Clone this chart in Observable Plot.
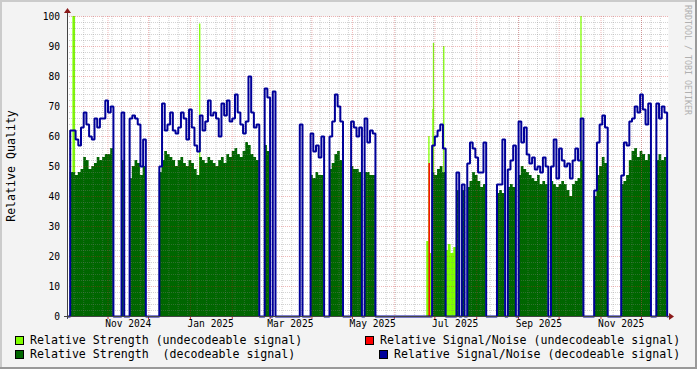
<!DOCTYPE html>
<html><head><meta charset="utf-8">
<script src="https://cdn.jsdelivr.net/npm/d3@7"></script>
<script src="https://cdn.jsdelivr.net/npm/@observablehq/plot@0.6"></script>
<style>
html,body{margin:0;padding:0;background:#f3f3f3;}
#wrap{position:relative;width:697px;height:369px;background:#f3f3f3;font-family:"DejaVu Sans Mono",monospace;overflow:hidden;}
#chart{position:absolute;left:0;top:0;}
.b{position:absolute;}
.sq{position:absolute;width:7px;height:7px;border:1px solid #000;}
.lt{position:absolute;font-size:11.6px;line-height:11.6px;white-space:pre;color:#000;}
</style></head>
<body><div id="wrap">
<div class="b" style="left:0;top:0;width:697px;height:2px;background:#cbcbcb"></div>
<div class="b" style="left:0;top:0;width:2px;height:369px;background:#cbcbcb"></div>
<div class="b" style="right:0;top:0;width:2px;height:369px;background:#999"></div>
<div class="b" style="left:0;bottom:0;width:697px;height:2px;background:#999"></div>
<div id="chart"></div>
<div id="legend"></div>
</div>
<script>
// ---------- data ----------
const DAY = 86400000;
const startTime = Date.UTC(2024, 9, 2);   // left edge of the time axis
const endTime = Date.UTC(2025, 11, 21);   // right edge of the time axis
const binDays = 2;                         // one value per two days

// Relative Strength (decodeable signal), one value per bin
const strength = [
  0,
  48,48,47,48,49,53,52,49,50,51,53,52,53,54,54,56,
  0,0,0, 52, 0,0,
  46,50,52,51,47,50,
  0,0,0,0,0,
  48,52,55,54,53,52,50,52,53,51, 50,52,51,49,47,53,52,51,53,52,
  51,50,52,53,51,54,53,55,56,54, 53,55,58,57,54,53,52,
  0,0, 57,55,
  0,0,0,0,0,0,0,0,0,0,0,0,0,0,0,
  47,46,48,47,47, 0,0,
  49,51,54,55,52, 0,0,0,
  50,49,49,48,0,48,48,47,47,
  0,0,0,0,0,0,0,0,0,0,0,0,0,0,0,0,0,0,0,0,0,
  48,47,49,50,48, 0,0,0,0,
  42,0,42,0,43,45,48,47,45,43,44, 0,0,0,0,
  41,42,41,0,43,44,43, 0,
  47,50,49,48,47,46,45,47,44,45,44, 0,
  45,44,43,44,45,44,42,40,44,45,46,52, 0,0,0,0,
  40,47,50,53,51, 0,0,0,0,0,
  44,45,47,52,55,56,53,55,54,52,54, 0,0,
  52,54,52,53, 0
];
// Relative Signal/Noise (decodeable signal), one value per bin
const snr = [
  0,
  62,62,59,57,63,68,64,60,59,66,63,66,66,72,68,70,
  0,0,0, 68, 0,0,
  66,67,66,64,50,59,
  0,0,0,0,0,
  50,71,62,64,68,62,61,63,68,66, 59,69,63,57,55,67,62,65,72,67,
  68,66,60,71,67,72,65,66,74,68, 64,61,65,80,68,63,64,
  0,0, 76,73,
  0,75,0,0,0,0,0,0,0,0,0,64,0,0,0,
  61,55,57,53,60, 0,0,
  60,65,74,70,65, 0,0,0,
  65,63,60,63,0,66,58,62,61,
  0,0,0,0,0,0,0,0,0,0,0,0,0,0,0,0,0,0,0,0,0,
  57,60,62,64,56, 0,0,0,0,
  48,0,44,0,51,58,56,53,48,48,58, 0,0,0,0,
  44,44,59,0,49,52,57, 0,
  65,58,63,54,51,53,49,50,48,53,50, 0,
  50,59,46,56,52,50,51,46,52,56,52,66, 0,0,0,0,
  42,58,64,67,63, 0,0,0,0,0,
  47,58,57,65,66,70,68,74,69,64,71, 0,0,
  71,66,70,68, 0
];
// Relative Strength (undecodeable signal): wider blocks (bin index, value)
const undecBins = [2, 133, 134, 140, 141, 142, 143];
const undecValues = [100, 25, 21, 22, 24, 21, 23];
// Relative Strength (undecodeable signal): thin spikes (days after start, value)
const spikeDays = [97.9, 267.6, 270.6, 271.0, 278.6, 380.2];
const spikeValues = [97.5, 60, 69, 91, 90, 100];
// Relative Signal/Noise (undecodeable signal)
const redDays = [267.8];
const redValues = [51];

const yTicks = [0, 10, 20, 30, 40, 50, 60, 70, 80, 90, 100];
const xLabelDates = ["2024-11-16", "2025-01-16", "2025-03-16", "2025-05-16", "2025-07-16", "2025-09-16", "2025-11-16"];

const legendItems = [
  {label: "Relative Strength (undecodeable signal)", color: "#80ff00"},
  {label: "Relative Signal/Noise (undecodeable signal)", color: "#ff0000"},
  {label: "Relative Strength  (decodeable signal)", color: "#006600"},
  {label: "Relative Signal/Noise (decodeable signal)", color: "#000099"}
];

// ---------- build tables ----------
const toDate = d => new Date(startTime + d * DAY);
const bins = strength.map((s, k) => ({t: toDate(k * binDays), s, n: snr[k], u: 0}));
undecBins.forEach((k, i) => bins[k].u = undecValues[i]);
bins.push({t: new Date(endTime), s: 0, n: 0, u: 0});
const spikes = spikeDays.map((d, i) => ({t: toDate(d), v: spikeValues[i]}));
const reds = redDays.map((d, i) => ({t: toDate(d), v: redValues[i]}));
const monthStarts = d3.utcMonth.range(new Date(startTime), new Date(endTime));
const minorDates = d3.utcMonday.range(new Date(startTime), new Date(endTime));
const yMinor = d3.range(0, 101, 2).filter(v => v % 10 !== 0);
const labelDates = xLabelDates.map(s => new Date(s + "T00:00:00Z"));

const dotted = {strokeDasharray: "1,1", strokeWidth: 1};
const chart = Plot.plot({
  width: 697, height: 332,
  marginLeft: 67, marginRight: 29, marginTop: 16, marginBottom: 16,
  style: {background: "transparent", fontFamily: "'DejaVu Sans Mono', monospace", fontSize: "9.6px", color: "#000", overflow: "visible"},
  x: {type: "utc", domain: [new Date(startTime), new Date(endTime)]},
  y: {domain: [0, 100]},
  marks: [
    Plot.frame({fill: "white", stroke: null}),
    Plot.areaY(bins, {x: "t", y: "u", curve: "step-after", fill: "#80ff00"}),
    Plot.ruleX(spikes, {x: "t", y1: 0, y2: "v", stroke: "#80ff00", strokeWidth: 1.3}),
    Plot.areaY(bins, {x: "t", y: "s", curve: "step-after", fill: "#006600"}),
    Plot.ruleY(yMinor, {stroke: "#808080", strokeOpacity: 0.35, ...dotted}),
    Plot.ruleX(minorDates, {stroke: "#808080", strokeOpacity: 0.35, ...dotted}),
    Plot.ruleY(yTicks, {stroke: "#d02020", strokeOpacity: 0.32, ...dotted}),
    Plot.ruleX(monthStarts, {stroke: "#d02020", strokeOpacity: 0.32, ...dotted}),
    Plot.ruleX(monthStarts, {y1: -1, y2: 0, stroke: "#c03030"}),
    Plot.ruleX(reds, {x: "t", y1: 0, y2: "v", stroke: "#ff0000", strokeWidth: 1.5}),
    Plot.lineY(bins, {x: "t", y: "n", curve: "step-after", stroke: "#000099", strokeWidth: 2, strokeLinejoin: "miter", strokeLinecap: "butt"}),
    Plot.axisX(labelDates, {tickSize: 0, tickPadding: 4, tickFormat: d3.utcFormat("%b %Y"), label: null}),
    Plot.axisY(yTicks, {tickSize: 0, tickPadding: 7.5, label: null})
  ]
});
document.getElementById("chart").appendChild(chart);

// axes lines, arrows and side texts
const sx = chart.scale("x"), sy = chart.scale("y");
const xL = sx.range[0], xR = sx.range[1], yB = sy.range[0], yT = sy.range[1];
const svg = d3.select(chart);
svg.append("line").attr("x1", xL - 3).attr("x2", xR + 3).attr("y1", yB + 0.5).attr("y2", yB + 0.5).attr("stroke", "#444");
svg.append("line").attr("x1", xL + 0.5).attr("x2", xL + 0.5).attr("y1", yB + 3).attr("y2", yT - 3).attr("stroke", "#444");
svg.append("path").attr("d", `M${xL - 3},${yT - 3} L${xL + 4},${yT - 3} L${xL + 0.5},${yT - 8} Z`).attr("fill", "#8b1a1a");
svg.append("path").attr("d", `M${xR + 1},${yB - 3} L${xR + 1},${yB + 4} L${xR + 6},${yB + 0.5} Z`).attr("fill", "#8b1a1a");
svg.append("text").attr("transform", `translate(15,${(yB + yT) / 2}) rotate(-90)`)
  .attr("text-anchor", "middle").attr("font-size", "11.6px").attr("fill", "#000").text("Relative Quality");
svg.append("text").attr("transform", `translate(684.5,5) rotate(90)`)
  .attr("text-anchor", "start").attr("font-size", "8.3px").attr("fill", "#b0b0b0").text("RRDTOOL / TOBI OETIKER");

// legend
const pos = [
  {sq: [15, 336], tx: [30, 335.2]},
  {sq: [365, 336], tx: [380, 335.2]},
  {sq: [15, 350], tx: [30, 349.2]},
  {sq: [379, 350], tx: [394, 349.2]}
];
const lg = document.getElementById("legend");
legendItems.forEach((it, i) => {
  const s = document.createElement("div");
  s.className = "sq"; s.style.left = pos[i].sq[0] + "px"; s.style.top = pos[i].sq[1] + "px"; s.style.background = it.color;
  const t = document.createElement("div");
  t.className = "lt"; t.style.left = pos[i].tx[0] + "px"; t.style.top = pos[i].tx[1] + "px"; t.textContent = it.label;
  lg.appendChild(s); lg.appendChild(t);
});
</script></body></html>
